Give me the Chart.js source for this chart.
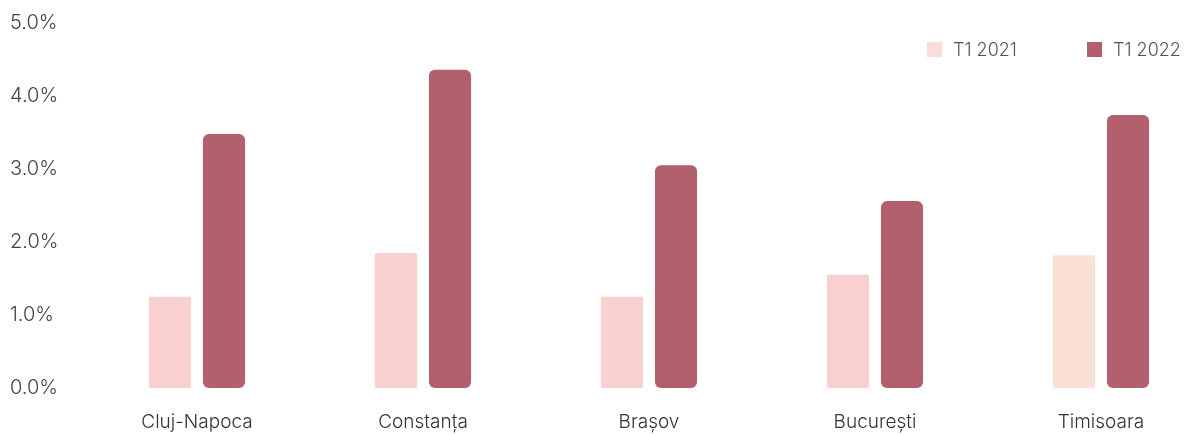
<!DOCTYPE html>
<html>
<head>
<meta charset="utf-8">
<script src="https://cdn.jsdelivr.net/npm/chart.js@4"></script>
<style>
  html, body { margin: 0; padding: 0; background: #fff; overflow: hidden; }
  #wrap { position: relative; width: 1194px; height: 434px; overflow: hidden; }
  #cadru { width: 1214px; height: 434px; }
  #legenda { position: absolute; left: 927px; top: 39px; display: flex;
             font-family: Inter, "Noto Sans", sans-serif; font-size: 18px; font-weight: 300; color: #555; }
  .elem { width: 160px; display: flex; align-items: center; }
  .cutie { width: 15px; height: 15px; margin-right: 11px; }
</style>
</head>
<body>
<div id="wrap">
  <div id="cadru"><canvas id="grafic"></canvas></div>
  <div id="legenda"></div>
</div>
<script>
// Date
const orase = ['Cluj-Napoca', 'Constanța', 'Brașov', 'București', 'Timisoara'];
const valori2021 = [1.25, 1.85, 1.25, 1.55, 1.82];
const valori2022 = [3.48, 4.36, 3.05, 2.56, 3.74];
const etichetaSerii = ['T1 2021', 'T1 2022'];
const ticuriY = [0, 1, 2, 3, 4, 5];

const culoareDeschisa = ['#f9d0d0', '#f9d0d0', '#f9d0d0', '#f9d0d0', '#fbe0d8'];
const culoareInchisa = '#b3606e';
const culoriLegenda = ['#fbdcdc', culoareInchisa];

const familie = 'Inter, "Noto Sans", sans-serif';

// legenda in HTML, sus in dreapta, peste zona graficului
document.getElementById('legenda').innerHTML = etichetaSerii
    .map((t, i) => `<div class="elem"><span class="cutie" style="background:${culoriLegenda[i]}"></span>${t}</div>`)
    .join('');

const ctx = document.getElementById('grafic').getContext('2d');
new Chart(ctx, {
    type: 'bar',
    data: {
        labels: orase,
        datasets: [
            {
                label: etichetaSerii[0],
                data: valori2021,
                backgroundColor: culoareDeschisa,
                borderRadius: 2,
                borderSkipped: false
            },
            {
                label: etichetaSerii[1],
                data: valori2022,
                backgroundColor: culoareInchisa,
                borderRadius: 6,
                borderSkipped: false
            }
        ]
    },
    options: {
        responsive: true,
        maintainAspectRatio: false,
        animation: false,
        layout: { padding: { top: 23, left: 10, right: 0, bottom: 0 } },
        datasets: { bar: { categoryPercentage: 0.478, barPercentage: 0.78 } },
        plugins: {
            tooltip: { enabled: false },
            legend: { display: false }
        },
        scales: {
            x: {
                grid: { display: false },
                border: { display: false },
                ticks: { color: '#333', font: { family: familie, size: 19, weight: 300 }, padding: 15 },
                afterFit: (s) => { s.height = 46; }
            },
            y: {
                min: 0,
                max: 5,
                afterBuildTicks: (s) => { s.ticks = ticuriY.map(v => ({ value: v })); },
                grid: { display: false },
                border: { display: false },
                ticks: {
                    color: '#444',
                    font: { family: familie, size: 20, weight: 300 },
                    crossAlign: 'far',
                    callback: (v) => v.toFixed(1) + '%'
                },
                afterFit: (s) => { s.width = 74; }
            }
        }
    }
});
</script>
</body>
</html>
